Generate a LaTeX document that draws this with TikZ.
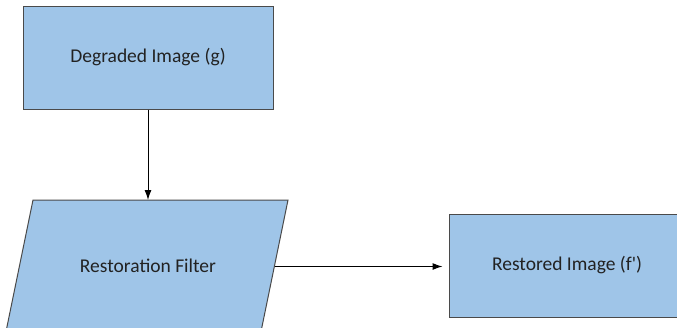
\documentclass[tikz,border=0pt]{standalone}
\usepackage{fontspec}
\setmainfont{Carlito}
\usetikzlibrary{arrows.meta}
\definecolor{boxfill}{HTML}{9FC5E8}
\definecolor{boxline}{HTML}{4A4A4A}
\definecolor{txt}{HTML}{222222}
\begin{document}
\begin{tikzpicture}[x=1pt,y=-1pt,
  box/.style={draw=boxline, fill=boxfill, line width=1pt, inner sep=0pt,
    text=txt, font=\fontsize{19.5}{23}\selectfont},
  lbl/.style={text=txt, inner sep=0pt, font=\fontsize{19.5}{23}\selectfont},
  conn/.style={draw=black, line width=1pt, -{Latex[length=10pt,width=7pt]}}]
\useasboundingbox (0,0) rectangle (677,327);
% Degraded image box
\node[box, minimum width=250pt, minimum height=103pt] (deg) at (148,57.5) {Degraded Image (g)};
% Restoration filter parallelogram
\coordinate (ptl) at (33,200);
\coordinate (ptr) at (288,200);
\coordinate (pbr) at (260.7,333);
\coordinate (pbl) at (5.7,333);
\filldraw[draw=boxline, fill=boxfill, line width=1pt] (ptl) -- (ptr) -- (pbr) -- (pbl) -- cycle;
\coordinate (ptop) at (148,200);
\coordinate (pright) at (274.5,266.5);
\node[lbl] (filt) at (148,266) {Restoration Filter};
% Restored image box
\node[box, minimum width=236pt, minimum height=103pt] (rest) at (567,265.5) {Restored Image (f\textquotesingle)};
% connectors
\draw[conn] (deg.south) -- (ptop);
\draw[conn] (pright) -- ([xshift=-6pt]rest.west |- pright);
\end{tikzpicture}
\end{document}
